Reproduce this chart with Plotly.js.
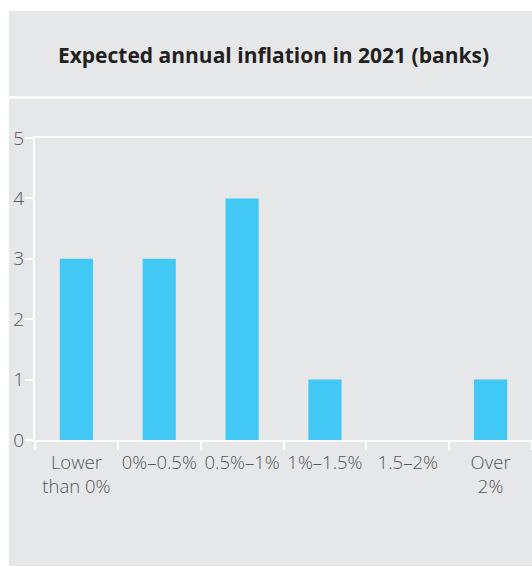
<!DOCTYPE html>
<html>
<head>
<meta charset="utf-8">
<script src="https://cdn.plot.ly/plotly-3.0.1.min.js"></script>
<style>
html,body{margin:0;padding:0;background:#ffffff;width:532px;height:567px;overflow:hidden;}
#chart{position:absolute;left:0;top:0;width:532px;height:567px;}
</style>
</head>
<body>
<div id="chart"></div>
<script>
const categories = ["Lower<br>than 0%", "0%\u20130.5%", "0.5%\u20131%", "1%\u20131.5%", "1.5\u20132%", "Over<br>2%"];
const banks = [3, 3, 4, 1, 0, 1];
const yTicks = [0, 1, 2, 3, 4, 5];
const titleText = "<b>Expected annual inflation in 2021 (banks)</b>";

const W = 532, H = 567;
const m = {l: 35, r: 0, t: 138, b: 127};
const plotH = H - m.t - m.b;
const plotW = W - m.l - m.r;
const px = v => (v - m.l) / plotW;
const py = v => (H - m.b - v) / plotH;

const trace = {
  type: 'bar',
  x: categories,
  y: banks,
  marker: {color: '#41c8f4', line: {width: 0}},
  hoverinfo: 'none'
};

const layout = {
  width: W, height: H,
  margin: m,
  paper_bgcolor: '#e6e7e8',
  plot_bgcolor: '#e6e7e8',
  bargap: 0.6,
  showlegend: false,
  font: {family: '"Open Sans", "Noto Sans", sans-serif', color: '#58595b', size: 18},
  title: {
    text: titleText,
    font: {family: '"Open Sans", sans-serif', size: 21, color: '#231f20'},
    xref: 'container', yref: 'container',
    x: 273.5 / W, xanchor: 'center',
    y: 1 - 56 / H, yanchor: 'middle'
  },
  xaxis: {
    type: 'category',
    range: [-0.5, 5.5],
    showline: true, linecolor: '#ffffff', linewidth: 2, mirror: true,
    ticks: 'outside', tickson: 'boundaries', ticklen: 8, tickwidth: 2, tickcolor: '#ffffff',
    tickangle: 0,
    ticklabelstandoff: 5,
    showgrid: false, zeroline: false,
    tickfont: {size: 18.5, color: '#555557', weight: 300}
  },
  yaxis: {
    range: [0, 5],
    tickvals: yTicks,
    showline: true, linecolor: '#ffffff', linewidth: 2,
    ticks: 'outside', ticklen: 8, tickwidth: 2, tickcolor: '#ffffff',
    showgrid: false, zeroline: false,
    ticklabelstandoff: -3,
    tickfont: {size: 19, color: '#555557', weight: 300}
  },
  shapes: [
    {type: 'rect', xref: 'paper', yref: 'paper', layer: 'below',
     x0: px(0), x1: px(9), y0: py(H), y1: py(0),
     fillcolor: '#ffffff', line: {width: 0}},
    {type: 'rect', xref: 'paper', yref: 'paper', layer: 'below',
     x0: px(0), x1: px(W), y0: py(11), y1: py(0),
     fillcolor: '#ffffff', line: {width: 0}},
    {type: 'rect', xref: 'paper', yref: 'paper', layer: 'below',
     x0: px(0), x1: px(W), y0: py(H), y1: py(566),
     fillcolor: '#ffffff', line: {width: 0}},
    {type: 'line', xref: 'paper', yref: 'paper',
     x0: px(9), x1: px(W), y0: py(97.5), y1: py(97.5),
     line: {color: '#ffffff', width: 2.5}}
  ]
};

Plotly.newPlot('chart', [trace], layout, {displayModeBar: false, staticPlot: true});
</script>
</body>
</html>
